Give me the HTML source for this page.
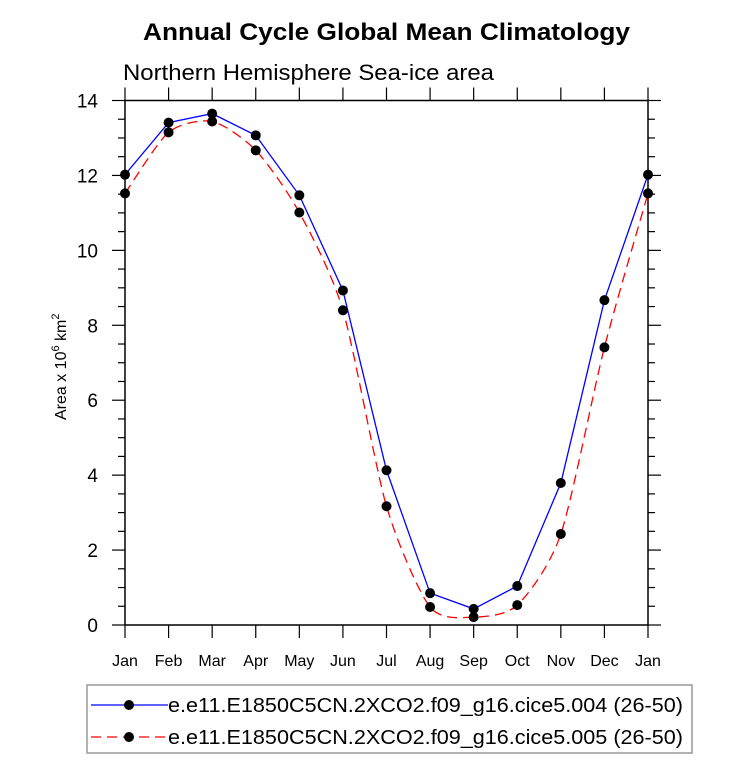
<!DOCTYPE html>
<html><head><meta charset="utf-8"><style>
body{margin:0;background:#fff;width:733px;height:761px;overflow:hidden;font-family:"Liberation Sans",sans-serif}
</style></head><body>
<svg id="chart" width="733" height="761" xmlns="http://www.w3.org/2000/svg" font-family="Liberation Sans, sans-serif">
<text x="143" y="40" font-size="24" font-weight="bold" textLength="487" lengthAdjust="spacingAndGlyphs">Annual Cycle Global Mean Climatology</text>
<text x="123" y="80" font-size="22" textLength="371" lengthAdjust="spacingAndGlyphs">Northern Hemisphere Sea-ice area</text>
<g id="axes"></g>
<g id="series"></g>
<text transform="translate(66,420) rotate(-90)" font-size="16">Area x 10<tspan dy="-7" font-size="11">6</tspan><tspan dy="7"> km</tspan><tspan dy="-7" font-size="11">2</tspan></text>
<g>
<rect x="87" y="685" width="605" height="68" fill="#fff" stroke="#999" stroke-width="1.5"/>
<g>
<line x1="91" y1="705" x2="168" y2="705" stroke="#00f" stroke-width="1.3"/>
<circle cx="129" cy="705" r="5" fill="#000"/>
<text x="168" y="712" font-size="20" textLength="515" lengthAdjust="spacingAndGlyphs">e.e11.E1850C5CN.2XCO2.f09_g16.cice5.004 (26-50)</text></g>
<g>
<line x1="91" y1="737" x2="168" y2="737" stroke="#f00" stroke-width="1.3" stroke-dasharray="10,6"/>
<circle cx="129" cy="737" r="5" fill="#000"/>
<text x="168" y="744" font-size="20" textLength="515" lengthAdjust="spacingAndGlyphs">e.e11.E1850C5CN.2XCO2.f09_g16.cice5.005 (26-50)</text></g>
</g>
</svg>
<script>
const months=["Jan","Feb","Mar","Apr","May","Jun","Jul","Aug","Sep","Oct","Nov","Dec","Jan"];
const series004=[12.02,13.41,13.65,13.07,11.47,8.93,4.13,0.85,0.43,1.04,3.79,8.67,12.02];
const series005=[11.52,13.15,13.44,12.67,11.01,8.40,3.17,0.48,0.21,0.53,2.43,7.41,11.52];
const yTicks=[0,2,4,6,8,10,12,14];
const X0=125,X1=648,Y0=625,Y1=100.5;
const xs=i=>X0+(X1-X0)*i/12;
const ys=v=>Y0-(Y0-Y1)*v/14;
const NS="http://www.w3.org/2000/svg";
function mk(t,a,p){const e=document.createElementNS(NS,t);for(const k in a)e.setAttribute(k,a[k]);p.appendChild(e);return e;}
const ax=document.getElementById('axes');
const frame=mk('rect',{x:X0,y:Y1,width:X1-X0,height:Y0-Y1,fill:'none',stroke:'#000','stroke-width':1.5},ax);


months.forEach((m,i)=>{
 const x=xs(i);
 mk('line',{x1:x,y1:Y0,x2:x,y2:Y0+13,stroke:'#000','stroke-width':1.2},ax);
 mk('line',{x1:x,y1:Y1,x2:x,y2:Y1-13,stroke:'#000','stroke-width':1.2},ax);
 const t=mk('text',{x:x,y:Y0+41,'text-anchor':'middle','font-size':16},ax);
 t.textContent=m;
 
 
});
for(let v=0;v<=14;v+=0.5){
 const y=ys(v);const major=v%2===0;const L=major?13:7;
 mk('line',{x1:X0-L,y1:y,x2:X0,y2:y,stroke:'#000','stroke-width':1.2},ax);
 mk('line',{x1:X1,y1:y,x2:X1+L,y2:y,stroke:'#000','stroke-width':1.2},ax);
}
yTicks.forEach(v=>{
 const t=mk('text',{x:X0-27,y:ys(v)+7,'text-anchor':'end','font-size':19},ax);
 t.textContent=v;
 
 
});
const sg=document.getElementById('series');
const p4=series004.map((v,i)=>[xs(i),ys(v)]);
const l4=mk('polyline',{points:p4.map(p=>p.join(',')).join(' '),fill:'none',stroke:'#00f','stroke-width':1.3},sg);


const p5=series005.map((v,i)=>[xs(i),ys(v)]);
let d='M'+p5[0].join(',');
const k=8;
for(let i=0;i<p5.length-1;i++){
 const a=p5[Math.max(i-1,0)],b=p5[i],c=p5[i+1],e=p5[Math.min(i+2,p5.length-1)];
 const c1=[b[0]+(c[0]-a[0])/k,b[1]+(c[1]-a[1])/k],c2=[c[0]-(e[0]-b[0])/k,c[1]-(e[1]-b[1])/k];
 d+=` C${c1.join(',')} ${c2.join(',')} ${c.join(',')}`;
}
const l5=mk('path',{d:d,fill:'none',stroke:'#f00','stroke-width':1.3,'stroke-dasharray':'10,6'},sg);


p4.forEach(p=>{const c=mk('circle',{cx:p[0],cy:p[1],r:5,fill:'#000'},sg);
 
 });
p5.forEach(p=>{const c=mk('circle',{cx:p[0],cy:p[1],r:5,fill:'#000'},sg);
 
 });
</script>
</body></html>
